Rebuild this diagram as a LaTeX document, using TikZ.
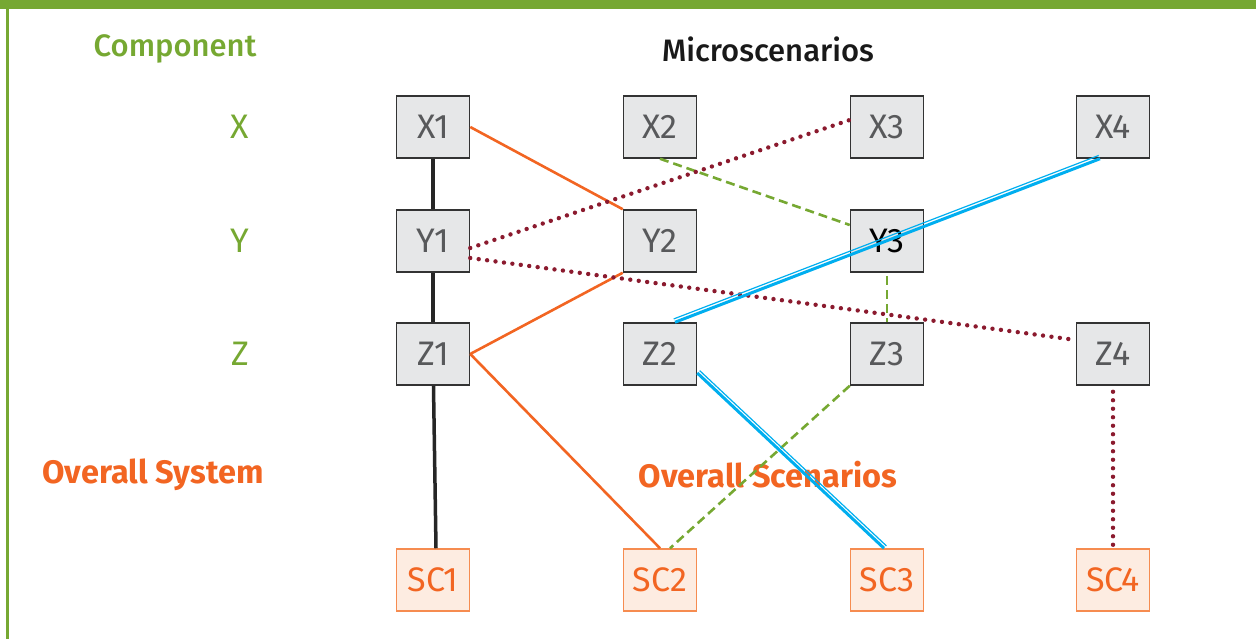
\documentclass[tikz,border=0pt]{standalone}
\usepackage{fontspec}
\setmainfont{Fira Sans}
\newfontfamily\medfont{Fira Sans Medium}
\usetikzlibrary{positioning}
\definecolor{mgreen}{RGB}{118,168,50}
\definecolor{morange}{RGB}{242,101,34}
\definecolor{mred}{RGB}{139,26,46}
\definecolor{mblue}{RGB}{0,174,239}
\definecolor{mgrey}{RGB}{230,231,232}
\definecolor{mtext}{RGB}{88,89,91}
\definecolor{mpeach}{RGB}{253,236,225}
\definecolor{mpeachline}{RGB}{246,140,80}
\tikzset{micro/.style = {draw=black!80, fill=mgrey, line width=1.5pt,
                         minimum width=73pt, minimum height=62pt, inner sep=0pt,
                         text=mtext, font=\fontsize{34}{36}\selectfont},
         overall/.style = {micro, draw=mpeachline, fill=mpeach, text=morange},
         label/.style = {font=\fontsize{34}{36}\selectfont},
         head/.style = {font=\fontsize{31}{34}\medfont},
         headbold/.style = {font=\fontsize{32.5}{36}\selectfont\bfseries},
         system/.style = {line width=3.5pt, black!85},
         chainA/.style = {line width=2.6pt, morange},
         chainB/.style = {line width=2.6pt, mgreen, dash pattern=on 9pt off 5pt},
         chainC/.style = {line width=4.4pt, mred, line cap=round, dash pattern=on 0pt off 8.5pt},
         chainD/.style = {line width=3pt, mblue},
         chainDthin/.style = {line width=1.2pt, mblue}}

\begin{document}
\begin{tikzpicture}[x=1pt, y=-1pt]
    \useasboundingbox (0, 0) rectangle (1256, 639);
    \fill [mgreen] (0, 0) rectangle (1256, 9);
    \fill [mgreen] (6, 0) rectangle (9, 639);

    % headings
    \node [head, mgreen] (component) at (175, 49) {Component};
    \node [head, black!90] (micro) at (768, 49) {Microscenarios};
    \node [headbold, morange] (system) at (153, 475) {Overall System};
    \node [headbold, morange] (scen) at (768, 475) {Overall Scenarios};

    \node [label, mgreen] (labx) at (240, 127) {X};
    \node [label, mgreen] (laby) at (240, 241) {Y};
    \node [label, mgreen] (labz) at (240, 354) {Z};

    % microscenario boxes
    \node [micro] (X1) at (433, 127) {X1};
    \node [micro] (X2) at (660, 127) {X2};
    \node [micro] (X3) at (887, 127) {X3};
    \node [micro] (X4) at (1113, 127) {X4};
    \node [micro] (Y1) at (433, 241) {Y1};
    \node [micro] (Y2) at (660, 241) {Y2};
    \node [micro, text=black] (Y3) at (887, 241) {Y3};
    \node [micro] (Z1) at (433, 354) {Z1};
    \node [micro] (Z2) at (660, 354) {Z2};
    \node [micro] (Z3) at (887, 354) {Z3};
    \node [micro] (Z4) at (1113, 354) {Z4};

    \node [overall] (SC1) at (433, 580) {SC1};
    \node [overall] (SC2) at (660, 580) {SC2};
    \node [overall] (SC3) at (887, 580) {SC3};
    \node [overall] (SC4) at (1113, 580) {SC4};

    % scenario 1
    \draw [system] (X1) -- (Y1);
    \draw [system] (Y1) -- (Z1);
    \draw [system] (Z1) -- ([xshift=3pt]SC1.north);

    % scenario 2
    \draw [chainA] (X1.east) -- (Y2.north west);
    \draw [chainA] (Y2.south west) -- (Z1.east);
    \draw [chainA] (Z1.east) -- (SC2.north);

    % scenario 2, second path
    \draw [chainB] (X2.south) -- ([yshift=16pt]Y3.west);
    \draw [chainB] ([yshift=-3pt]Y3.south) -- (Z3.north);
    \draw [chainB] (Z3.south west) -- ([xshift=10pt]SC2.north);

    % scenario 4
    \draw [chainC] ([yshift=-7pt]Y1.east) -- ([yshift=7pt]X3.west);
    \draw [chainC] ([yshift=-17pt]Y1.east) -- ([yshift=14pt]Z4.west);
    \draw [chainC] ([yshift=-6pt]Z4.south) -- (SC4.north);

    % scenario 3
    \draw [chainD] ([xshift=-13pt]X4.south) -- ([xshift=15pt]Z2.north);
    \draw [chainDthin, transform canvas={shift={(-1.3pt, 3.3pt)}}] ([xshift=-13pt]X4.south) -- ([xshift=15pt]Z2.north);
    \draw [chainD] ([yshift=-19pt]Z2.east) -- ([xshift=-3pt]SC3.north);
    \draw [chainDthin, transform canvas={shift={(2.4pt, 2.4pt)}}] ([yshift=-19pt]Z2.east) -- ([xshift=-3pt]SC3.north);
\end{tikzpicture}
\end{document}
